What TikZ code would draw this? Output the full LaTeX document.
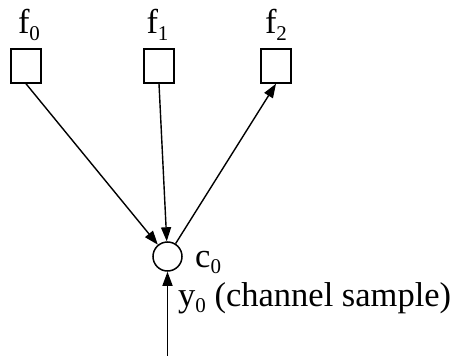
\documentclass[tikz,border=0pt]{standalone}
\usepackage{fontspec}
\setmainfont{Liberation Serif}
\usetikzlibrary{arrows.meta}
\tikzset{
  fbox/.style={draw, line width=1.5pt, minimum width=30pt, minimum height=34pt, inner sep=0pt},
  cnode/.style={draw, circle, line width=1.5pt, minimum size=29pt, inner sep=0pt},
  lbl/.style={font=\fontsize{34.5}{40}\selectfont, inner sep=0pt, anchor=base},
  conn/.style={line width=1.4pt, -{Triangle[length=14pt,width=10pt]}}
}
\newcommand{\sbs}[1]{\raisebox{-0.2em}{\fontsize{21}{24}\selectfont #1}}
\begin{document}
\begin{tikzpicture}[x=1pt,y=-1pt]
\useasboundingbox (0,0) rectangle (453,356);
\node[fbox] (f0) at (26,66) {};
\node[fbox] (f1) at (159,66) {};
\node[fbox] (f2) at (276,66) {};
\node[cnode] (c0) at (167.5,256.5) {};
\coordinate (ys) at (167.5,356);
\node[lbl] (l0) at (29,34) {f\sbs{0}};
\node[lbl] (l1) at (157.5,34) {f\sbs{1}};
\node[lbl] (l2) at (276,34) {f\sbs{2}};
\node[lbl, anchor=base west] (lc) at (195,267) {c\sbs{0}};
\node[lbl, anchor=base west] (ly) at (178,306) {y\sbs{0} (channel sample)};
\draw[conn] (f0.south) -- (c0);
\draw[conn] (f1.south) -- (c0);
\draw[conn] (c0) -- (f2.south);
\draw[conn] (ys) -- (c0);
\end{tikzpicture}
\end{document}
